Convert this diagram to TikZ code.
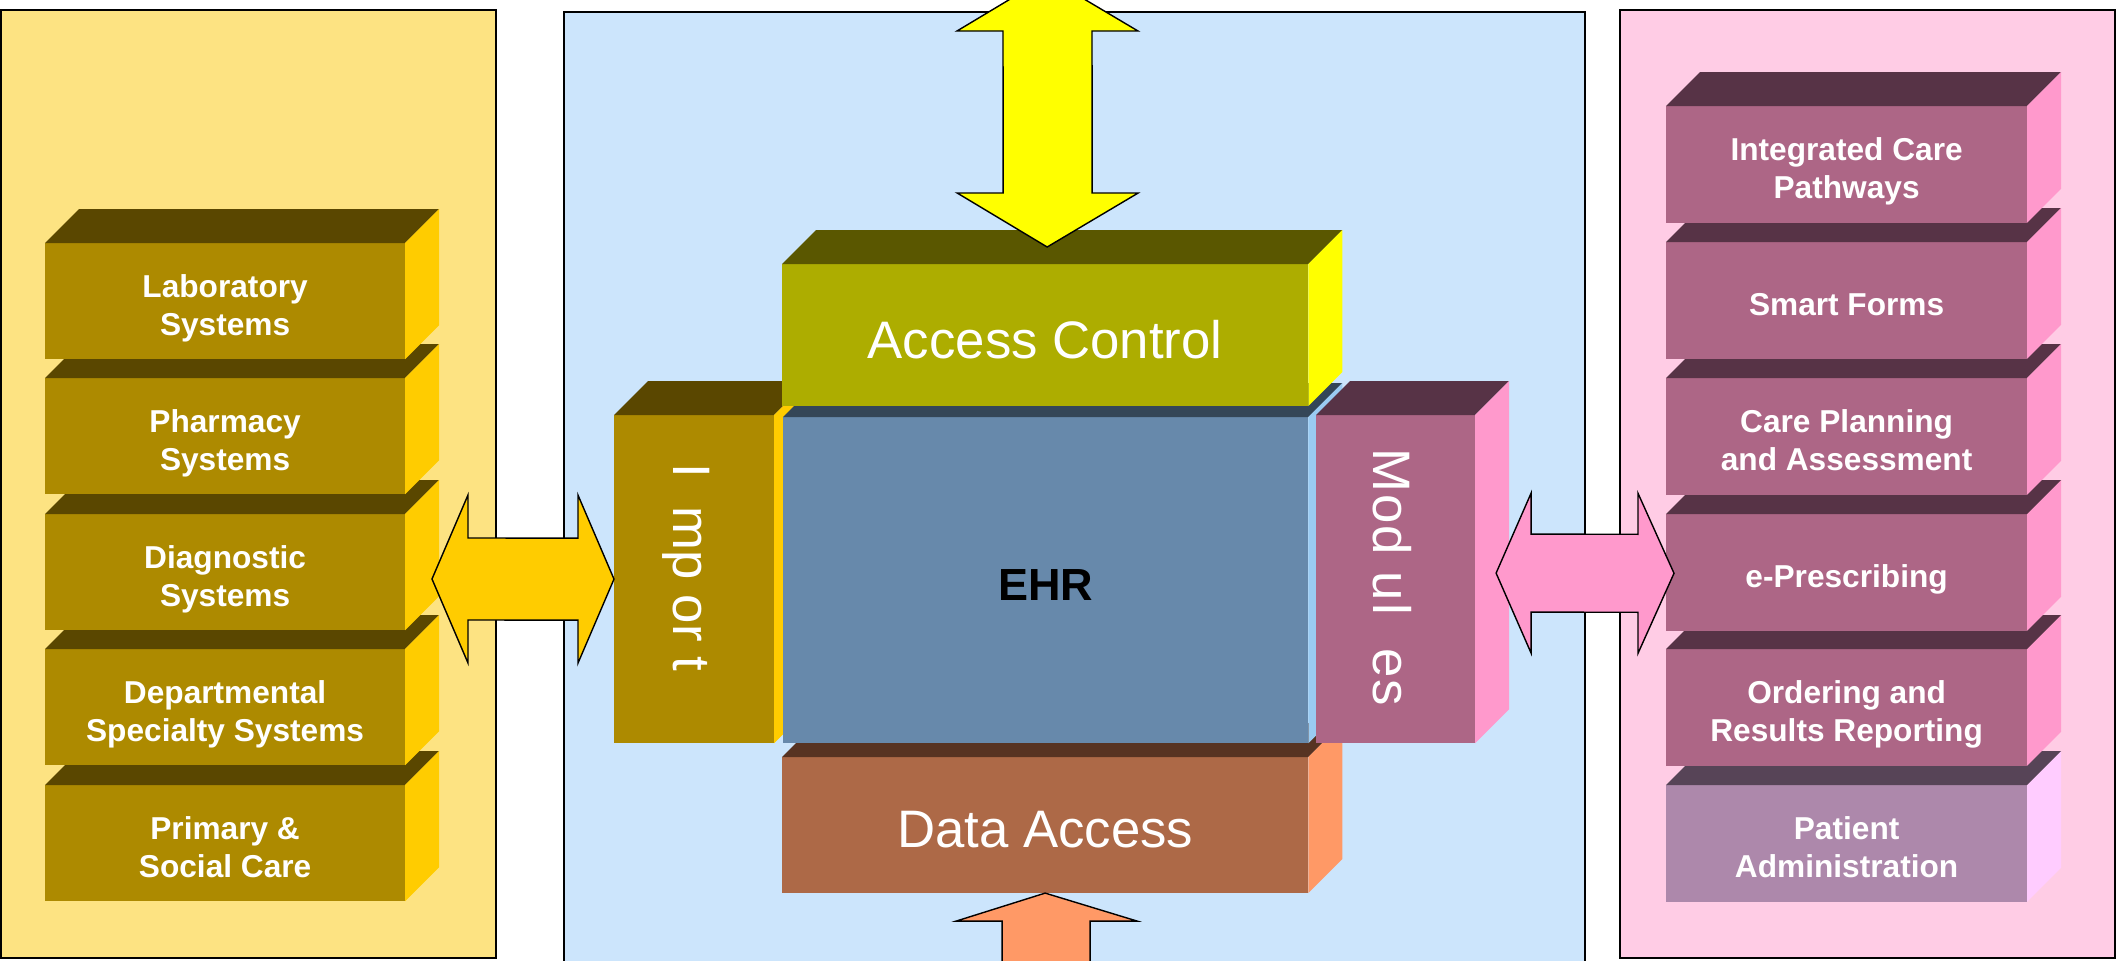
\documentclass[tikz,border=0pt]{standalone}
\usepackage{fontspec}
\setmainfont{Liberation Sans}
\usetikzlibrary{calc}

% panel backgrounds
\definecolor{panelY}{HTML}{FDE382}
\definecolor{panelB}{HTML}{CCE5FC}
\definecolor{panelP}{HTML}{FFCCE5}
% cuboid faces: front / top / side
\definecolor{goldF}{HTML}{AD8A00}
\definecolor{goldT}{HTML}{5A4700}
\definecolor{goldS}{HTML}{FFCC00}
\definecolor{olivF}{HTML}{ADAD00}
\definecolor{olivT}{HTML}{5A5700}
\definecolor{olivS}{HTML}{FFFF00}
\definecolor{blueF}{HTML}{6789AB}
\definecolor{blueT}{HTML}{344657}
\definecolor{blueS}{HTML}{9ACBF2}
\definecolor{mauveF}{HTML}{AD6686}
\definecolor{mauveT}{HTML}{573346}
\definecolor{mauveS}{HTML}{FF99CC}
\definecolor{lilacF}{HTML}{AD88AB}
\definecolor{lilacT}{HTML}{574457}
\definecolor{lilacS}{HTML}{FFCCFF}
\definecolor{brownF}{HTML}{AD6947}
\definecolor{brownT}{HTML}{573322}
\definecolor{brownS}{HTML}{FF9966}

\tikzset{
  panel/.style={draw=black, line width=0.4pt},
  cubefront/.style={rectangle, inner sep=0pt, outer sep=0pt},
  cubelabel/.style={inner sep=0pt, text=white, align=center, text depth=0pt,
    font=\fontsize{9}{10.8}\selectfont\bfseries},
  bigtext/.style={font=\fontsize{15}{18}\selectfont},
  sidelabel/.style={rotate=-90, anchor=base, font=\fontsize{15}{18}\selectfont},
  blockarrow/.style={draw=black, line width=0.4pt, line join=miter},
}

% #1 front colour, #2 name, #3 top-left corner, #4 width, #5 height,
% #6 top colour, #7 side colour, #8 label, #9 label options
\newcommand{\cuboid}[9]{%
  \node[cubefront, fill=#1, minimum width=#4, minimum height=#5, anchor=north west] (#2) at #3 {};
  \fill[#6] (#2.north west) -- ++(34,-34) -- ($(#2.north east)+(34,-34)$) -- (#2.north east) -- cycle;
  \fill[#7] (#2.north east) -- ++(34,-34) -- ($(#2.south east)+(34,-34)$) -- (#2.south east) -- cycle;
  \node[cubelabel, #9] (#2-label) at ($(#2.center)+(0,4)$) {#8};
}

\begin{document}
\begin{tikzpicture}[x=0.01cm, y=-0.01cm]
\useasboundingbox (0,0) rectangle (2118,960);
\clip (0,0) rectangle (2118,960);

% panels
\filldraw[panel, fill=panelY] (1,10) rectangle (496,958);
\filldraw[panel, fill=panelB] (564,12) rectangle (1585,1000);
\filldraw[panel, fill=panelP] (1620,10) rectangle (2115,958);

% external systems (bottom to top so upper boxes overlap lower ones)
\cuboid{goldF}{psc}{(45,785)}{3.6cm}{1.16cm}{goldT}{goldS}{Primary \&\\Social Care}{}
\cuboid{goldF}{dss}{(45,649)}{3.6cm}{1.16cm}{goldT}{goldS}{Departmental\\Specialty Systems}{}
\cuboid{goldF}{dia}{(45,514)}{3.6cm}{1.16cm}{goldT}{goldS}{Diagnostic\\Systems}{}
\cuboid{goldF}{pha}{(45,378)}{3.6cm}{1.16cm}{goldT}{goldS}{Pharmacy\\Systems}{}
\cuboid{goldF}{lab}{(45,243)}{3.6cm}{1.16cm}{goldT}{goldS}{Laboratory\\Systems}{}

% clinical modules
\cuboid{lilacF}{pat}{(1666,785)}{3.61cm}{1.165cm}{lilacT}{lilacS}{Patient\\Administration}{}
\cuboid{mauveF}{ord}{(1666,649)}{3.61cm}{1.165cm}{mauveT}{mauveS}{Ordering and\\Results Reporting}{}
\cuboid{mauveF}{erx}{(1666,514)}{3.61cm}{1.165cm}{mauveT}{mauveS}{e-Prescribing}{}
\cuboid{mauveF}{cpa}{(1666,378)}{3.61cm}{1.165cm}{mauveT}{mauveS}{Care Planning\\and Assessment}{}
\cuboid{mauveF}{smf}{(1666,242)}{3.61cm}{1.165cm}{mauveT}{mauveS}{Smart Forms}{}
\cuboid{mauveF}{icp}{(1666,106)}{3.61cm}{1.165cm}{mauveT}{mauveS}{Integrated Care\\Pathways}{}

% EHR core (shifts are given before the rotation so they act on the page axes)
\cuboid{brownF}{da}{(782,757)}{5.26cm}{1.36cm}{brownT}{brownS}{Data Access}{bigtext}
\cuboid{goldF}{imp}{(614,415)}{1.60cm}{3.28cm}{goldT}{goldS}{I\ \ mp or t}{xshift=-0.21cm, yshift=0.16cm, sidelabel}
\cuboid{blueF}{ehr}{(783,417)}{5.25cm}{3.26cm}{blueT}{blueS}{EHR}{text=black, yshift=-0.01cm, font=\fontsize{12.8}{15}\selectfont\bfseries}
\cuboid{olivF}{ac}{(782,264)}{5.26cm}{1.42cm}{olivT}{olivS}{Access Control}{bigtext}
\cuboid{mauveF}{mod}{(1316,415)}{1.59cm}{3.28cm}{mauveT}{mauveS}{Mod ul\ \ es}{xshift=-0.225cm, yshift=0.06cm, sidelabel, font=\fontsize{15}{18}\selectfont\addfontfeature{LetterSpace=4}}

% block arrows
\coordinate (la) at (432,579);
\draw[blockarrow, fill=goldS] (la) -- ++(36,-84) -- ++(0,43)
  -- ($(imp.west)+(-36,-41)$) -- ++(0,-43) -- (imp.west) -- ++(-36,84) -- ++(0,-43)
  -- ($(la)+(36,41)$) -- ++(0,43) -- cycle;

\coordinate (pa) at ($(mod.east)+(21,-6)$);
\coordinate (pb) at ($(erx.west)+(8,1)$);
\draw[blockarrow, fill=mauveS] (pa) -- ++(35,-80) -- ++(0,41)
  -- ($(pb)+(-36,-39)$) -- ++(0,-41) -- (pb) -- ++(-36,80) -- ++(0,-41)
  -- ($(pa)+(35,39)$) -- ++(0,41) -- cycle;

\coordinate (yb) at ($(ac.north)+(2,-17)$);
\coordinate (yt) at (1047,-23);
\draw[blockarrow, fill=olivS] (yb) -- ++(-90,-54) -- ++(46,0)
  -- ($(yt)+(-44,54)$) -- ++(-46,0) -- (yt) -- ++(91,54) -- ++(-46,0)
  -- ($(yb)+(45,-54)$) -- ++(46,0) -- cycle;

\draw[blockarrow, fill=brownS] (da.south) -- ++(-89,28) -- ++(46,0) -- ++(0,100)
  -- ++(88,0) -- ++(0,-100) -- ++(47,0) -- cycle;
\end{tikzpicture}
\end{document}
